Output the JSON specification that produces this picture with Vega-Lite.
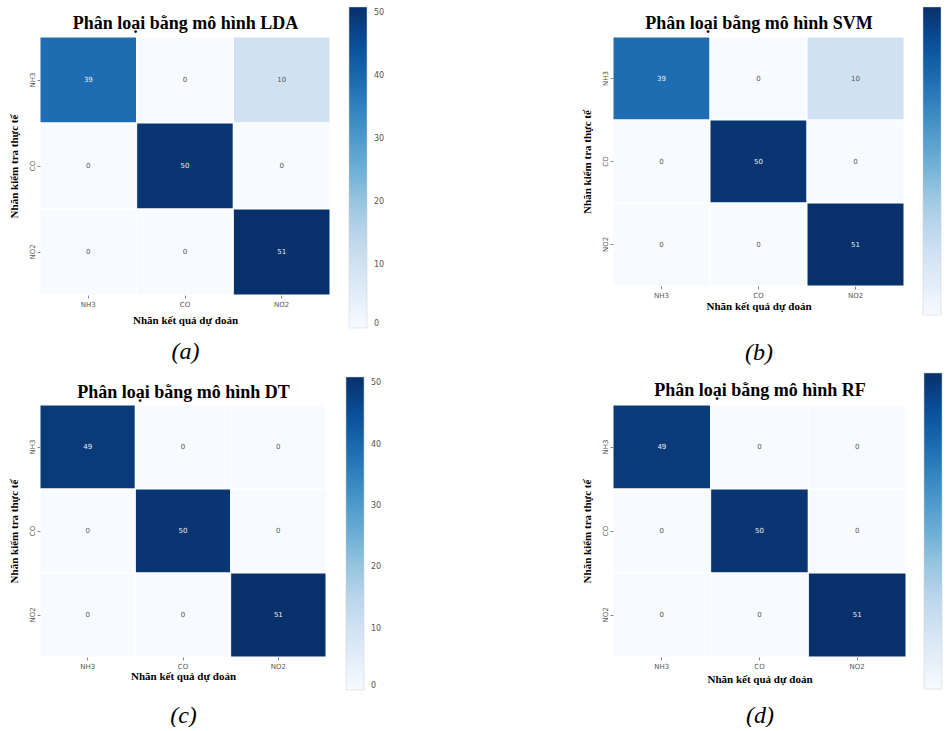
{
  "$schema": "https://vega.github.io/schema/vega-lite/v6.json",
  "background": "white",
  "padding": {"left": 8, "top": 7, "right": 0, "bottom": 0},
  "config": {"view": {"stroke": null}, "axis": {"grid": false}},
  "datasets": {
    "lda": [
      {"actual": "NH3", "pred": "NH3", "count": 39}, {"actual": "NH3", "pred": "CO", "count": 0}, {"actual": "NH3", "pred": "NO2", "count": 10},
      {"actual": "CO", "pred": "NH3", "count": 0}, {"actual": "CO", "pred": "CO", "count": 50}, {"actual": "CO", "pred": "NO2", "count": 0},
      {"actual": "NO2", "pred": "NH3", "count": 0}, {"actual": "NO2", "pred": "CO", "count": 0}, {"actual": "NO2", "pred": "NO2", "count": 51}
    ],
    "svm": [
      {"actual": "NH3", "pred": "NH3", "count": 39}, {"actual": "NH3", "pred": "CO", "count": 0}, {"actual": "NH3", "pred": "NO2", "count": 10},
      {"actual": "CO", "pred": "NH3", "count": 0}, {"actual": "CO", "pred": "CO", "count": 50}, {"actual": "CO", "pred": "NO2", "count": 0},
      {"actual": "NO2", "pred": "NH3", "count": 0}, {"actual": "NO2", "pred": "CO", "count": 0}, {"actual": "NO2", "pred": "NO2", "count": 51}
    ],
    "dt": [
      {"actual": "NH3", "pred": "NH3", "count": 49}, {"actual": "NH3", "pred": "CO", "count": 0}, {"actual": "NH3", "pred": "NO2", "count": 0},
      {"actual": "CO", "pred": "NH3", "count": 0}, {"actual": "CO", "pred": "CO", "count": 50}, {"actual": "CO", "pred": "NO2", "count": 0},
      {"actual": "NO2", "pred": "NH3", "count": 0}, {"actual": "NO2", "pred": "CO", "count": 0}, {"actual": "NO2", "pred": "NO2", "count": 51}
    ],
    "rf": [
      {"actual": "NH3", "pred": "NH3", "count": 49}, {"actual": "NH3", "pred": "CO", "count": 0}, {"actual": "NH3", "pred": "NO2", "count": 0},
      {"actual": "CO", "pred": "NH3", "count": 0}, {"actual": "CO", "pred": "CO", "count": 50}, {"actual": "CO", "pred": "NO2", "count": 0},
      {"actual": "NO2", "pred": "NH3", "count": 0}, {"actual": "NO2", "pred": "CO", "count": 0}, {"actual": "NO2", "pred": "NO2", "count": 51}
    ]
  },
  "columns": 2,
  "bounds": "flush",
  "align": "none",
  "spacing": {"row": 110, "column": 283},
  "resolve": {"scale": {"color": "independent"}},
  "concat": [
    {
      "width": 290, "height": 258,
      "data": {"name": "lda"},
      "encoding": {
        "y": {"field": "actual", "type": "nominal", "sort": ["NH3", "CO", "NO2"],
          "axis": {"title": "Nhãn kiểm tra thực tế", "labelAngle": -90, "labelFontSize": 7, "labelFont": "DejaVu Sans", "labelColor": "#555", "tickSize": 3, "tickColor": "#888", "domain": false, "labelPadding": 2, "titleFont": "Liberation Serif", "titleFontSize": 11, "titleFontWeight": "bold", "titleColor": "black", "titlePadding": 9}}
      },
      "resolve": {"axis": {"x": "independent"}},
      "layer": [
        {
          "mark": {"type": "rect", "stroke": "white", "strokeWidth": 1},
          "encoding": {
            "x": {"field": "pred", "type": "nominal", "sort": ["NH3", "CO", "NO2"],
              "axis": {"orient": "bottom", "title": "Nhãn kết quả dự đoán", "labelAngle": 0, "labelFontSize": 7, "labelFont": "DejaVu Sans", "labelColor": "#555", "tickSize": 3, "tickColor": "#888", "domain": false, "labelPadding": 2, "titleFont": "Liberation Serif", "titleFontSize": 11, "titleFontWeight": "bold", "titleColor": "black", "titlePadding": 7}},
            "color": {"field": "count", "type": "quantitative",
              "scale": {"domain": [0, 6.375, 12.75, 19.125, 25.5, 31.875, 38.25, 44.625, 51], "range": ["#f7fbff", "#deebf7", "#c6dbef", "#9ecae1", "#6baed6", "#4292c6", "#2171b5", "#08519c", "#08306b"]},
              "legend": {"orient": "none", "legendX": 309, "legendY": -30, "direction": "vertical", "gradientLength": 321, "gradientThickness": 18, "title": null, "values": [0, 10, 20, 30, 40, 50], "labelFontSize": 8, "labelFont": "DejaVu Sans", "labelColor": "#555", "labelOffset": 7, "padding": 0, "gradientStrokeColor": "#ccc", "gradientStrokeWidth": 0.5}}
          }
        },
        {
          "mark": {"type": "text", "fontSize": 7, "font": "DejaVu Sans"},
          "encoding": {
            "x": {"field": "pred", "type": "nominal", "sort": ["NH3", "CO", "NO2"],
              "axis": {"orient": "top", "title": "Phân loại bằng mô hình LDA", "labels": false, "ticks": false, "domain": false, "titleFont": "Liberation Serif", "titleFontSize": 18, "titleFontWeight": "bold", "titleColor": "black", "titlePadding": 5}},
            "text": {"field": "count", "type": "quantitative"},
            "color": {"condition": {"test": "datum.count > 30", "value": "#eeeeee"}, "value": "#555555"}
          }
        },
        {
          "mark": {"type": "rect", "opacity": 0, "fill": "transparent"},
          "encoding": {
            "x": {"field": "pred", "type": "nominal", "sort": ["NH3", "CO", "NO2"],
              "axis": {"orient": "bottom", "title": "(a)", "labels": false, "ticks": false, "domain": false, "titleFont": "Liberation Serif", "titleFontSize": 24, "titleFontStyle": "italic", "titleFontWeight": "normal", "titleColor": "black", "titlePadding": 44}}
          }
        }
      ]
    },
    {
      "width": 291, "height": 249,
      "data": {"name": "svm"},
      "encoding": {
        "y": {"field": "actual", "type": "nominal", "sort": ["NH3", "CO", "NO2"],
          "axis": {"title": "Nhãn kiểm tra thực tế", "labelAngle": -90, "labelFontSize": 7, "labelFont": "DejaVu Sans", "labelColor": "#555", "tickSize": 3, "tickColor": "#888", "domain": false, "labelPadding": 2, "titleFont": "Liberation Serif", "titleFontSize": 11, "titleFontWeight": "bold", "titleColor": "black", "titlePadding": 9}}
      },
      "resolve": {"axis": {"x": "independent"}},
      "layer": [
        {
          "mark": {"type": "rect", "stroke": "white", "strokeWidth": 1},
          "encoding": {
            "x": {"field": "pred", "type": "nominal", "sort": ["NH3", "CO", "NO2"],
              "axis": {"orient": "bottom", "title": "Nhãn kết quả dự đoán", "labelAngle": 0, "labelFontSize": 7, "labelFont": "DejaVu Sans", "labelColor": "#555", "tickSize": 3, "tickColor": "#888", "domain": false, "labelPadding": 2, "titleFont": "Liberation Serif", "titleFontSize": 11, "titleFontWeight": "bold", "titleColor": "black", "titlePadding": 2}},
            "color": {"field": "count", "type": "quantitative",
              "scale": {"domain": [0, 6.375, 12.75, 19.125, 25.5, 31.875, 38.25, 44.625, 51], "range": ["#f7fbff", "#deebf7", "#c6dbef", "#9ecae1", "#6baed6", "#4292c6", "#2171b5", "#08519c", "#08306b"]},
              "legend": {"orient": "none", "legendX": 310, "legendY": -30, "direction": "vertical", "gradientLength": 308, "gradientThickness": 18, "title": null, "values": [0, 10, 20, 30, 40, 50], "labelExpr": "''", "labelFontSize": 8, "labelColor": "#555", "labelOffset": 7, "padding": 0, "gradientStrokeColor": "#ccc", "gradientStrokeWidth": 0.5}}
          }
        },
        {
          "mark": {"type": "text", "fontSize": 7, "font": "DejaVu Sans"},
          "encoding": {
            "x": {"field": "pred", "type": "nominal", "sort": ["NH3", "CO", "NO2"],
              "axis": {"orient": "top", "title": "Phân loại bằng mô hình SVM", "labels": false, "ticks": false, "domain": false, "titleFont": "Liberation Serif", "titleFontSize": 18, "titleFontWeight": "bold", "titleColor": "black", "titlePadding": 5}},
            "text": {"field": "count", "type": "quantitative"},
            "color": {"condition": {"test": "datum.count > 30", "value": "#eeeeee"}, "value": "#555555"}
          }
        },
        {
          "mark": {"type": "rect", "opacity": 0, "fill": "transparent"},
          "encoding": {
            "x": {"field": "pred", "type": "nominal", "sort": ["NH3", "CO", "NO2"],
              "axis": {"orient": "bottom", "title": "(b)", "labels": false, "ticks": false, "domain": false, "titleFont": "Liberation Serif", "titleFontSize": 24, "titleFontStyle": "italic", "titleFontWeight": "normal", "titleColor": "black", "titlePadding": 54}}
          }
        }
      ]
    },
    {
      "width": 286, "height": 252,
      "data": {"name": "dt"},
      "encoding": {
        "y": {"field": "actual", "type": "nominal", "sort": ["NH3", "CO", "NO2"],
          "axis": {"title": "Nhãn kiểm tra thực tế", "labelAngle": -90, "labelFontSize": 7, "labelFont": "DejaVu Sans", "labelColor": "#555", "tickSize": 3, "tickColor": "#888", "domain": false, "labelPadding": 2, "titleFont": "Liberation Serif", "titleFontSize": 11, "titleFontWeight": "bold", "titleColor": "black", "titlePadding": 9}}
      },
      "resolve": {"axis": {"x": "independent"}},
      "layer": [
        {
          "mark": {"type": "rect", "stroke": "white", "strokeWidth": 1},
          "encoding": {
            "x": {"field": "pred", "type": "nominal", "sort": ["NH3", "CO", "NO2"],
              "axis": {"orient": "bottom", "title": "Nhãn kết quả dự đoán", "labelAngle": 0, "labelFontSize": 7, "labelFont": "DejaVu Sans", "labelColor": "#555", "tickSize": 3, "tickColor": "#888", "domain": false, "labelPadding": 2, "titleFont": "Liberation Serif", "titleFontSize": 11, "titleFontWeight": "bold", "titleColor": "black", "titlePadding": 1}},
            "color": {"field": "count", "type": "quantitative",
              "scale": {"domain": [0, 6.375, 12.75, 19.125, 25.5, 31.875, 38.25, 44.625, 51], "range": ["#f7fbff", "#deebf7", "#c6dbef", "#9ecae1", "#6baed6", "#4292c6", "#2171b5", "#08519c", "#08306b"]},
              "legend": {"orient": "none", "legendX": 306, "legendY": -28, "direction": "vertical", "gradientLength": 313, "gradientThickness": 18, "title": null, "values": [0, 10, 20, 30, 40, 50], "labelFontSize": 8, "labelFont": "DejaVu Sans", "labelColor": "#555", "labelOffset": 7, "padding": 0, "gradientStrokeColor": "#ccc", "gradientStrokeWidth": 0.5}}
          }
        },
        {
          "mark": {"type": "text", "fontSize": 7, "font": "DejaVu Sans"},
          "encoding": {
            "x": {"field": "pred", "type": "nominal", "sort": ["NH3", "CO", "NO2"],
              "axis": {"orient": "top", "title": "Phân loại bằng mô hình DT", "labels": false, "ticks": false, "domain": false, "titleFont": "Liberation Serif", "titleFontSize": 18, "titleFontWeight": "bold", "titleColor": "black", "titlePadding": 4}},
            "text": {"field": "count", "type": "quantitative"},
            "color": {"condition": {"test": "datum.count > 30", "value": "#eeeeee"}, "value": "#555555"}
          }
        },
        {
          "mark": {"type": "rect", "opacity": 0, "fill": "transparent"},
          "encoding": {
            "x": {"field": "pred", "type": "nominal", "sort": ["NH3", "CO", "NO2"],
              "axis": {"orient": "bottom", "title": "(c)", "labels": false, "ticks": false, "domain": false, "titleFont": "Liberation Serif", "titleFontSize": 24, "titleFontStyle": "italic", "titleFontWeight": "normal", "titleColor": "black", "titlePadding": 46}}
          }
        }
      ]
    },
    {
      "width": 293, "height": 252,
      "data": {"name": "rf"},
      "encoding": {
        "y": {"field": "actual", "type": "nominal", "sort": ["NH3", "CO", "NO2"],
          "axis": {"title": "Nhãn kiểm tra thực tế", "labelAngle": -90, "labelFontSize": 7, "labelFont": "DejaVu Sans", "labelColor": "#555", "tickSize": 3, "tickColor": "#888", "domain": false, "labelPadding": 2, "titleFont": "Liberation Serif", "titleFontSize": 11, "titleFontWeight": "bold", "titleColor": "black", "titlePadding": 9}}
      },
      "resolve": {"axis": {"x": "independent"}},
      "layer": [
        {
          "mark": {"type": "rect", "stroke": "white", "strokeWidth": 1},
          "encoding": {
            "x": {"field": "pred", "type": "nominal", "sort": ["NH3", "CO", "NO2"],
              "axis": {"orient": "bottom", "title": "Nhãn kết quả dự đoán", "labelAngle": 0, "labelFontSize": 7, "labelFont": "DejaVu Sans", "labelColor": "#555", "tickSize": 3, "tickColor": "#888", "domain": false, "labelPadding": 2, "titleFont": "Liberation Serif", "titleFontSize": 11, "titleFontWeight": "bold", "titleColor": "black", "titlePadding": 4}},
            "color": {"field": "count", "type": "quantitative",
              "scale": {"domain": [0, 6.375, 12.75, 19.125, 25.5, 31.875, 38.25, 44.625, 51], "range": ["#f7fbff", "#deebf7", "#c6dbef", "#9ecae1", "#6baed6", "#4292c6", "#2171b5", "#08519c", "#08306b"]},
              "legend": {"orient": "none", "legendX": 311, "legendY": -32, "direction": "vertical", "gradientLength": 316, "gradientThickness": 18, "title": null, "values": [0, 10, 20, 30, 40, 50], "labelExpr": "''", "labelFontSize": 8, "labelColor": "#555", "labelOffset": 7, "padding": 0, "gradientStrokeColor": "#ccc", "gradientStrokeWidth": 0.5}}
          }
        },
        {
          "mark": {"type": "text", "fontSize": 7, "font": "DejaVu Sans"},
          "encoding": {
            "x": {"field": "pred", "type": "nominal", "sort": ["NH3", "CO", "NO2"],
              "axis": {"orient": "top", "title": "Phân loại bằng mô hình RF", "labels": false, "ticks": false, "domain": false, "titleFont": "Liberation Serif", "titleFontSize": 18, "titleFontWeight": "bold", "titleColor": "black", "titlePadding": 6}},
            "text": {"field": "count", "type": "quantitative"},
            "color": {"condition": {"test": "datum.count > 30", "value": "#eeeeee"}, "value": "#555555"}
          }
        },
        {
          "mark": {"type": "rect", "opacity": 0, "fill": "transparent"},
          "encoding": {
            "x": {"field": "pred", "type": "nominal", "sort": ["NH3", "CO", "NO2"],
              "axis": {"orient": "bottom", "title": "(d)", "labels": false, "ticks": false, "domain": false, "titleFont": "Liberation Serif", "titleFontSize": 24, "titleFontStyle": "italic", "titleFontWeight": "normal", "titleColor": "black", "titlePadding": 46}}
          }
        }
      ]
    }
  ]
}
